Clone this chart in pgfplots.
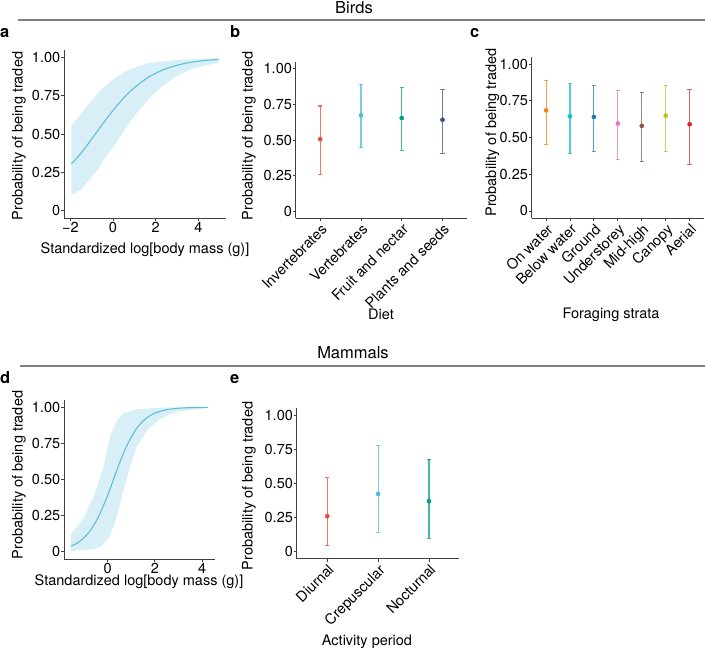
\documentclass[border=0pt]{standalone}
\usepackage{fontspec}
\setmainfont{TeX Gyre Heros}
\usepackage{pgfplots}
\pgfplotsset{compat=1.18}

\definecolor{lineblue}{RGB}{94,190,215}
\definecolor{ribbon}{RGB}{216,239,247}
\definecolor{npgA}{HTML}{E64B35}
\definecolor{npgB}{HTML}{4DBBD5}
\definecolor{npgC}{HTML}{00A087}
\definecolor{npgD}{HTML}{3C5488}
\definecolor{dOrange}{HTML}{FF7F0E}
\definecolor{dCyan}{HTML}{17BECF}
\definecolor{dBlue}{HTML}{1F77B4}
\definecolor{dPink}{HTML}{E377C2}
\definecolor{dBrown}{HTML}{8C564B}
\definecolor{dOlive}{HTML}{BCBD22}
\definecolor{dRed}{HTML}{D62728}

\newcommand{\fs}{\fontsize{14.5}{16}\selectfont}

\pgfplotsset{
  panel/.style={
    scale only axis, anchor=south west,
    axis x line*=bottom, axis y line*=left,
    axis line style={draw=black!75, line width=0.9pt},
    every tick/.style={draw=black!75, line width=0.9pt},
    tick align=outside, major tick length=3pt,
    ymin=-0.05, ymax=1.05,
    ytick={0,0.25,0.5,0.75,1}, yticklabels={0,0.25,0.50,0.75,1.00},
    tick label style={font=\fs},
    yticklabel style={inner sep=0.6pt},
    xticklabel style={inner sep=1.5pt},
    /pgf/number format/assume math mode=true,
    clip=false,
  },
  catx/.style={xticklabel style={rotate=45, anchor=north east, inner sep=1pt}},
  ebar/.style={only marks, mark=*, mark size=2.1pt, color=#1,
    error bars/.cd, y dir=both, y explicit,
    error bar style={line width=1.1pt, draw opacity=0.75},
    error mark options={rotate=90, mark size=2.2pt, line width=1.1pt, draw opacity=0.75}},
}

\begin{document}
\begin{tikzpicture}
\useasboundingbox (0pt,0pt) rectangle (705pt,-648pt);

% headers
\node[font=\fontsize{16.5}{18}\selectfont, anchor=base] at (354pt,-13.3pt) {Birds};
\draw[black!50, line width=1.8pt] (18pt,-20pt) -- (705pt,-20pt);
\node[font=\fontsize{16.5}{18}\selectfont, anchor=base] at (353pt,-358.3pt) {Mammals};
\draw[black!50, line width=1.8pt] (20pt,-366pt) -- (705pt,-366pt);

% panel letters
\foreach \l/\x/\y in {a/0/37, b/230/37, c/470/37, d/0/383, e/230/383}
  \node[font=\fontsize{16.5}{18}\selectfont\bfseries, anchor=base west, inner sep=0pt] at (\x pt,-\y pt) {\l};

% ---- a
\begin{axis}[panel, at={(64pt,-218pt)}, width=162pt, height=168pt,
  xmin=-2.3, xmax=5.3, xtick={-2,0,2,4}, xticklabels={−2,0,2,4}]
\addplot[fill=ribbon, draw=none] coordinates {
  (-1.95,0.554) (-1.21,0.681) (-0.59,0.785) (-0.12,0.846) (0.65,0.916)
  (1.58,0.963) (2.98,0.985) (4.95,0.996)
  (4.95,0.967) (3.75,0.930) (2.98,0.879) (2.20,0.802) (1.58,0.714)
  (1.12,0.637) (0.65,0.549) (0.19,0.451) (-0.28,0.363) (-0.74,0.264)
  (-1.21,0.187) (-1.52,0.132) (-1.95,0.103)} -- cycle;
\addplot[lineblue, line width=1.1pt, smooth] coordinates {
  (-1.95,0.305) (-1.5,0.374) (-1,0.467) (-0.5,0.563) (0,0.654) (0.5,0.736)
  (1,0.803) (1.5,0.857) (2,0.898) (2.5,0.928) (3,0.950) (3.5,0.966)
  (4,0.976) (4.5,0.984) (4.95,0.988)};
\end{axis}

% ---- b
\begin{axis}[panel, catx, at={(295.7pt,-218.3pt)}, width=171.3pt, height=156.6pt,
  xmin=0.4, xmax=4.6, xtick={1,2,3,4},
  xticklabels={Invertebrates,Vertebrates,Fruit and nectar,Plants and seeds}]
\addplot[ebar=npgA] coordinates {(1,0.506) += (0,0.233) -= (0,0.247)};
\addplot[ebar=npgB] coordinates {(2,0.673) += (0,0.219) -= (0,0.226)};
\addplot[ebar=npgC] coordinates {(3,0.654) += (0,0.214) -= (0,0.226)};
\addplot[ebar=npgD] coordinates {(4,0.642) += (0,0.210) -= (0,0.237)};
\end{axis}

% ---- c
\begin{axis}[panel, catx, at={(531.7pt,-218.3pt)}, width=172.3pt, height=161.6pt,
  xmin=0.4, xmax=7.6, xtick={1,...,7},
  xticklabels={On water,Below water,Ground,Understorey,Mid-high,Canopy,Aerial}]
\addplot[ebar=dOrange] coordinates {(1,0.685) += (0,0.204) -= (0,0.230)};
\addplot[ebar=dCyan]   coordinates {(2,0.645) += (0,0.221) -= (0,0.256)};
\addplot[ebar=dBlue]   coordinates {(3,0.640) += (0,0.211) -= (0,0.235)};
\addplot[ebar=dPink]   coordinates {(4,0.595) += (0,0.226) -= (0,0.246)};
\addplot[ebar=dBrown]  coordinates {(5,0.579) += (0,0.228) -= (0,0.244)};
\addplot[ebar=dOlive]  coordinates {(6,0.649) += (0,0.206) -= (0,0.242)};
\addplot[ebar=dRed]    coordinates {(7,0.590) += (0,0.234) -= (0,0.271)};
\end{axis}

% ---- d
\begin{axis}[panel, at={(64pt,-559pt)}, width=151pt, height=159pt,
  xmin=-1.84, xmax=4.54, xtick={0,2,4}, xticklabels={0,2,4}]
\addplot[fill=ribbon, draw=none] coordinates {
  (-1.55,0.12) (-1.02,0.23) (-0.59,0.38) (-0.17,0.59) (0.11,0.80) (0.40,0.91)
  (0.68,0.96) (1.24,0.986) (2.23,0.998) (4.25,1.0)
  (4.25,0.995) (2.94,0.97) (2.23,0.92) (1.67,0.84) (1.24,0.73) (0.96,0.59)
  (0.68,0.43) (0.40,0.25) (0.11,0.11) (-0.24,0.04) (-0.59,0.016) (-1.55,0.005)} -- cycle;
\addplot[lineblue, line width=1.1pt, smooth] coordinates {
  (-1.55,0.038) (-1.2,0.069) (-0.8,0.131) (-0.4,0.237) (0,0.389) (0.25,0.5)
  (0.5,0.611) (0.8,0.729) (1.2,0.847) (1.6,0.919) (2.0,0.959) (2.5,0.983)
  (3.0,0.993) (3.5,0.997) (4.25,0.999)};
\end{axis}

% ---- e
\begin{axis}[panel, catx, at={(296.7pt,-558.7pt)}, width=162.8pt, height=150.4pt,
  xmin=0.4, xmax=3.6, xtick={1,2,3},
  xticklabels={Diurnal,Crepuscular,Nocturnal}]
\addplot[ebar=npgA] coordinates {(1,0.261) += (0,0.280) -= (0,0.217)};
\addplot[ebar=npgB] coordinates {(2,0.424) += (0,0.352) -= (0,0.285)};
\addplot[ebar=npgC] coordinates {(3,0.371) += (0,0.305) -= (0,0.273)};
\end{axis}

% axis titles
\node[font=\fs, rotate=90] at (19pt,-136pt) {Probability of being traded};
\node[font=\fs, rotate=90] at (249pt,-136pt) {Probability of being traded};
\node[font=\fs, rotate=90] at (492.5pt,-132.5pt) {Probability of being traded};
\node[font=\fs, rotate=90] at (19pt,-475pt) {Probability of being traded};
\node[font=\fs, rotate=90] at (249pt,-486pt) {Probability of being traded};
\node[font=\fs, anchor=base] at (145pt,-253pt) {Standardized log[body mass (g)]};
\node[font=\fs, anchor=base] at (139pt,-585pt) {Standardized log[body mass (g)]};
\node[font=\fs, anchor=base] at (381pt,-319pt) {Diet};
\node[font=\fs, anchor=base] at (611pt,-318.5pt) {Foraging strata};
\node[font=\fs, anchor=base] at (367pt,-645pt) {Activity period};
\end{tikzpicture}
\end{document}
